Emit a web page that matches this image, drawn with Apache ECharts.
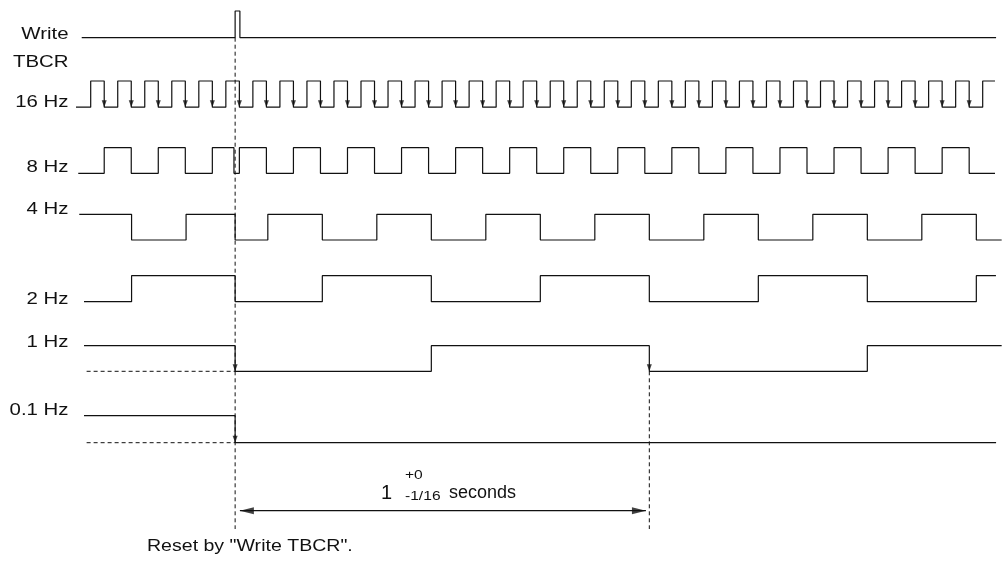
<!DOCTYPE html>
<html><head><meta charset="utf-8">
<script src="https://cdn.jsdelivr.net/npm/echarts@6/dist/echarts.min.js"></script>
<style>html,body{margin:0;padding:0;background:#fff}#c{width:1006px;height:566px}</style>
</head><body><div id="c"></div>
<script>
// ===== DATA (time in units of 1/32 s; 0 = first 16 Hz rising edge) =====
const signalLabels = ['Write', 'TBCR', '16 Hz', '8 Hz', '4 Hz', '2 Hz', '1 Hz', '0.1 Hz'];
const resetTime = 10.6;
const writeEdges = [10.6, 10.95];
const clk16Edges = [0,1,2,3,4,5,6,7,8,9,10,11,12,13,14,15,16,17,18,19,20,21,22,23,24,25,26,27,28,29,30,31,32,33,34,35,36,37,38,39,40,41,42,43,44,45,46,47,48,49,50,51,52,53,54,55,56,57,58,59,60,61,62,63,64,65,66];
const clk8Edges = [1,3,5,7,9,10.6,11,13,15,17,19,21,23,25,27,29,31,33,35,37,39,41,43,45,47,49,51,53,55,57,59,61,63,65];
const clk4Edges = [3,7,10.6,13,17,21,25,29,33,37,41,45,49,53,57,61,65];
const clk2Edges = [3,10.6,17,25,33,41,49,57,65];
const clk1Edges = [10.6,25,41,57];
const clk01Edges = [10.6];
// signal spans [start, end] and initial levels
const writeSpan = [-0.66, 66.45], writeInit = 0;
const clk16Span = [-1.09, 66.91], clk16Init = 0;
const clk8Span = [-0.92, 66.91], clk8Init = 0;
const clk4Span = [-0.84, 66.86], clk4Init = 1;
const clk2Span = [-0.49, 66.44], clk2Init = 0;
const clk1Span = [-0.49, 66.86], clk1Init = 1;
const clk01Span = [-0.49, 66.45], clk01Init = 1;
const dashedLowStart = -0.3;
const secondFallTime = 41;
const dimSpan = [10.95, 40.75];
const dimTexts = ['1', '+0', '-1/16', 'seconds'];
const noteText = 'Reset by "Write TBCR".';

// ===== LAYOUT =====
const scaleA = {origin: 90.7, unit: 13.625};
const scaleB = {origin: 90.7, unit: 13.515};
const xRange = [-2, 67];
const rowBox = {
  write: {top: 11, height: 26.7, scale: scaleA},
  clk16: {top: 81, height: 26.2, scale: scaleB},
  clk8:  {top: 147.7, height: 25.6, scale: scaleB},
  clk4:  {top: 214.3, height: 25.7, scale: scaleA},
  clk2:  {top: 275.7, height: 26, scale: scaleA},
  clk1:  {top: 345.7, height: 25.6, scale: scaleA},
  clk01: {top: 415.7, height: 27, scale: scaleA},
  annoUp: {top: 37.7, height: 333.6, scale: scaleA},
  annoLow: {top: 371.3, height: 157.7, scale: scaleA}
};
const dimY = 0.884;
const labelRight = 68.5;
const labelY = [34, 62.5, 102.5, 167.8, 209.5, 299.5, 342.5, 410.5];
const FONT = '"Liberation Sans", Arial, Helvetica, sans-serif';
const INK = '#111';
const LW = 1.2;

function steps(span, init, edges) {
  const pts = [[span[0], init]];
  let lv = init;
  for (const e of edges) { pts.push([e, lv]); lv = 1 - lv; pts.push([e, lv]); }
  pts.push([span[1], lv]);
  return pts;
}
function fallingEdges(init, edges) {
  const out = []; let lv = init;
  for (const e of edges) { lv = 1 - lv; if (lv === 0) out.push([e, 0]); }
  return out;
}

const rowKeys = Object.keys(rowBox);
const grids = [], xAxes = [], yAxes = [];
rowKeys.forEach((k, i) => {
  const b = rowBox[k];
  grids.push({left: b.scale.origin + xRange[0] * b.scale.unit, width: (xRange[1] - xRange[0]) * b.scale.unit, top: b.top, height: b.height});
  xAxes.push({type: 'value', gridIndex: i, min: xRange[0], max: xRange[1], show: false});
  yAxes.push({type: 'value', gridIndex: i, min: 0, max: 1, show: false, inverse: k.startsWith('anno')});
});
const gi = k => rowKeys.indexOf(k);

const series = [];
function stepSeries(k, span, init, edges) {
  series.push({type: 'line', xAxisIndex: gi(k), yAxisIndex: gi(k), data: steps(span, init, edges),
    showSymbol: false, clip: false, silent: true, animation: false,
    lineStyle: {color: INK, width: LW}});
}
stepSeries('write', writeSpan, writeInit, writeEdges);
stepSeries('clk16', clk16Span, clk16Init, clk16Edges);
stepSeries('clk8', clk8Span, clk8Init, clk8Edges);
stepSeries('clk4', clk4Span, clk4Init, clk4Edges);
stepSeries('clk2', clk2Span, clk2Init, clk2Edges);
stepSeries('clk1', clk1Span, clk1Init, clk1Edges);
stepSeries('clk01', clk01Span, clk01Init, clk01Edges);

const downArrow = 'path://M0,0L10,0L5,14Z';
function arrowSeries(k, init, edges) {
  series.push({type: 'scatter', xAxisIndex: gi(k), yAxisIndex: gi(k), data: fallingEdges(init, edges),
    symbol: downArrow, symbolSize: [5, 7], symbolOffset: [0, -3.5], clip: false, silent: true, animation: false,
    itemStyle: {color: INK}});
}
arrowSeries('clk16', clk16Init, clk16Edges);
arrowSeries('clk1', clk1Init, clk1Edges);
arrowSeries('clk01', clk01Init, clk01Edges);

const dashStyle = {color: INK, width: 1, type: [4, 3]};
function dashLine(k, pts) {
  series.push({type: 'line', xAxisIndex: gi(k), yAxisIndex: gi(k), data: pts, showSymbol: false,
    clip: false, silent: true, animation: false, lineStyle: dashStyle});
}
dashLine('clk1', [[dashedLowStart, 0], [resetTime, 0]]);
dashLine('clk01', [[dashedLowStart, 0], [resetTime, 0]]);
dashLine('annoUp', [[resetTime, 0], [resetTime, 1]]);
dashLine('annoLow', [[resetTime, 0], [resetTime, 1]]);
dashLine('annoLow', [[secondFallTime, 0], [secondFallTime, 1]]);

// dimension arrow
series.push({type: 'line', xAxisIndex: gi('annoLow'), yAxisIndex: gi('annoLow'),
  data: [[dimSpan[0], dimY], [dimSpan[1], dimY]], showSymbol: false, clip: false, silent: true, animation: false,
  lineStyle: {color: INK, width: LW}});
series.push({type: 'scatter', xAxisIndex: gi('annoLow'), yAxisIndex: gi('annoLow'),
  data: [[dimSpan[0], dimY]], symbol: 'path://M10,0L0,5L10,10Z', symbolSize: [14, 7], symbolOffset: [7, 0],
  clip: false, silent: true, animation: false, itemStyle: {color: INK}});
series.push({type: 'scatter', xAxisIndex: gi('annoLow'), yAxisIndex: gi('annoLow'),
  data: [[dimSpan[1], dimY]], symbol: 'path://M0,0L10,5L0,10Z', symbolSize: [14, 7], symbolOffset: [-7, 0],
  clip: false, silent: true, animation: false, itemStyle: {color: INK}});

// text
const graphic = [];
signalLabels.forEach((t, i) => {
  graphic.push({type: 'text', x: labelRight, y: labelY[i], scaleX: 1.2, silent: true,
    style: {text: t, fill: INK, font: '17px ' + FONT, align: 'right', verticalAlign: 'middle'}});
});
// [x, y, fontSize, scaleX]
const dimPos = [[381, 493.5, 20, 1], [405, 475, 13, 1.2], [405, 496, 13, 1.2], [449, 493.5, 18, 1]];
dimTexts.forEach((t, i) => {
  graphic.push({type: 'text', x: dimPos[i][0], y: dimPos[i][1], scaleX: dimPos[i][3], silent: true,
    style: {text: t, fill: INK, font: dimPos[i][2] + 'px ' + FONT, align: 'left', verticalAlign: 'middle'}});
});
graphic.push({type: 'text', x: 147, y: 546, scaleX: 1.15, silent: true,
  style: {text: noteText, fill: INK, font: '17px ' + FONT, align: 'left', verticalAlign: 'middle'}});

const chart = echarts.init(document.getElementById('c'), null, {renderer: 'canvas'});
chart.setOption({
  backgroundColor: '#fff', animation: false,
  grid: grids, xAxis: xAxes, yAxis: yAxes, series: series, graphic: graphic
});
</script></body></html>
